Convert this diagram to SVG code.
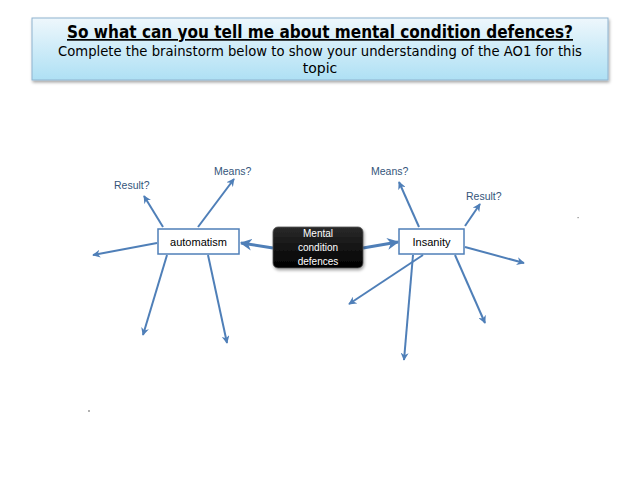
<svg xmlns="http://www.w3.org/2000/svg" width="638" height="479" viewBox="0 0 638 479">
<defs>
<linearGradient id="tg" x1="0" y1="0" x2="0" y2="1">
<stop offset="0" stop-color="#eef7fc"/>
<stop offset="1" stop-color="#aee0f4"/>
</linearGradient>
<linearGradient id="bg" x1="0" y1="0" x2="0" y2="1">
<stop offset="0" stop-color="#2a2a2a"/>
<stop offset="1" stop-color="#000"/>
</linearGradient>
<marker id="ah" viewBox="0 0 10 10" refX="9" refY="5" markerWidth="4" markerHeight="4" orient="auto" markerUnits="strokeWidth">
<path d="M0,0 L10,5 L0,10 L3,5 Z" fill="#4f7fb8"/>
</marker>
<filter id="sh" x="-5%" y="-10%" width="110%" height="130%">
<feDropShadow dx="1" dy="2" stdDeviation="1.5" flood-color="#000" flood-opacity="0.35"/>
</filter>
</defs>
<style>
.c line{stroke:#4f7fb8;stroke-width:2;fill:none}
.c line.t{stroke-width:3}
.lbl{font-family:"Liberation Sans",Arial,sans-serif;font-size:10.5px;fill:#34557a}
.box{fill:#fff;stroke:#4f7fb8;stroke-width:1.5}
.bt{font-family:"Liberation Sans",Arial,sans-serif;font-size:11px;fill:#000;text-anchor:middle}
.wt{font-family:"Liberation Sans",Arial,sans-serif;font-size:10px;fill:#fff;text-anchor:middle}
.tt{font-family:"Comic Sans MS","DejaVu Sans",sans-serif;fill:#000;text-anchor:middle}
</style>
<rect width="638" height="479" fill="#fff"/>
<g id="title">
<rect x="32" y="18" width="576" height="62" fill="url(#tg)" stroke="#8fb3cf" stroke-width="1" filter="url(#sh)"/>
<text class="tt" x="320" y="38" font-weight="bold" font-size="17" textLength="506" lengthAdjust="spacingAndGlyphs" text-decoration="underline">So what can you tell me about mental condition defences?</text>
<text class="tt" x="320" y="56" font-size="14" textLength="524" lengthAdjust="spacingAndGlyphs">Complete the brainstorm below to show your understanding of the AO1 for this</text>
<text class="tt" x="320" y="73" font-size="14">topic</text>
</g>
<g id="connectors" class="c">
<line class="t" x1="273" y1="248" x2="241" y2="243" marker-end="url(#ah)"/>
<line class="t" x1="363" y1="248" x2="398" y2="242" marker-end="url(#ah)"/>
<line x1="163" y1="227" x2="144" y2="196" marker-end="url(#ah)"/>
<line x1="198" y1="227" x2="234" y2="179" marker-end="url(#ah)"/>
<line x1="157" y1="243" x2="93" y2="255" marker-end="url(#ah)"/>
<line x1="167" y1="255" x2="143" y2="335" marker-end="url(#ah)"/>
<line x1="208" y1="255" x2="227" y2="343" marker-end="url(#ah)"/>
<line x1="419" y1="227" x2="399" y2="182" marker-end="url(#ah)"/>
<line x1="465" y1="226" x2="480" y2="204" marker-end="url(#ah)"/>
<line x1="465" y1="247" x2="524" y2="263" marker-end="url(#ah)"/>
<line x1="423" y1="255" x2="349" y2="304" marker-end="url(#ah)"/>
<line x1="413" y1="255" x2="404" y2="360" marker-end="url(#ah)"/>
<line x1="455" y1="255" x2="485" y2="323" marker-end="url(#ah)"/>
</g>
<g id="automatism">
<rect class="box" x="158" y="229" width="81" height="25"/>
<text class="bt" x="198.5" y="245.5">automatism</text>
</g>
<g id="mental">
<rect x="273" y="227" width="90" height="41" rx="5" fill="url(#bg)" stroke="#555" stroke-width="0.8" filter="url(#sh)"/>
<text class="wt" x="318" y="237">Mental</text>
<text class="wt" x="318" y="251">condition</text>
<text class="wt" x="318" y="265">defences</text>
</g>
<g id="insanity">
<rect class="box" x="399" y="229" width="65" height="25"/>
<text class="bt" x="431.5" y="245.5">Insanity</text>
</g>
<g id="labels">
<text class="lbl" x="114" y="189">Result?</text>
<text class="lbl" x="214" y="175">Means?</text>
<text class="lbl" x="371" y="175">Means?</text>
<text class="lbl" x="466" y="200">Result?</text>
</g>
<g id="dots">
<rect x="577.5" y="217" width="1.2" height="1.2" fill="#888"/>
<rect x="88.5" y="410" width="1" height="2" fill="#666"/>
</g>
</svg>
